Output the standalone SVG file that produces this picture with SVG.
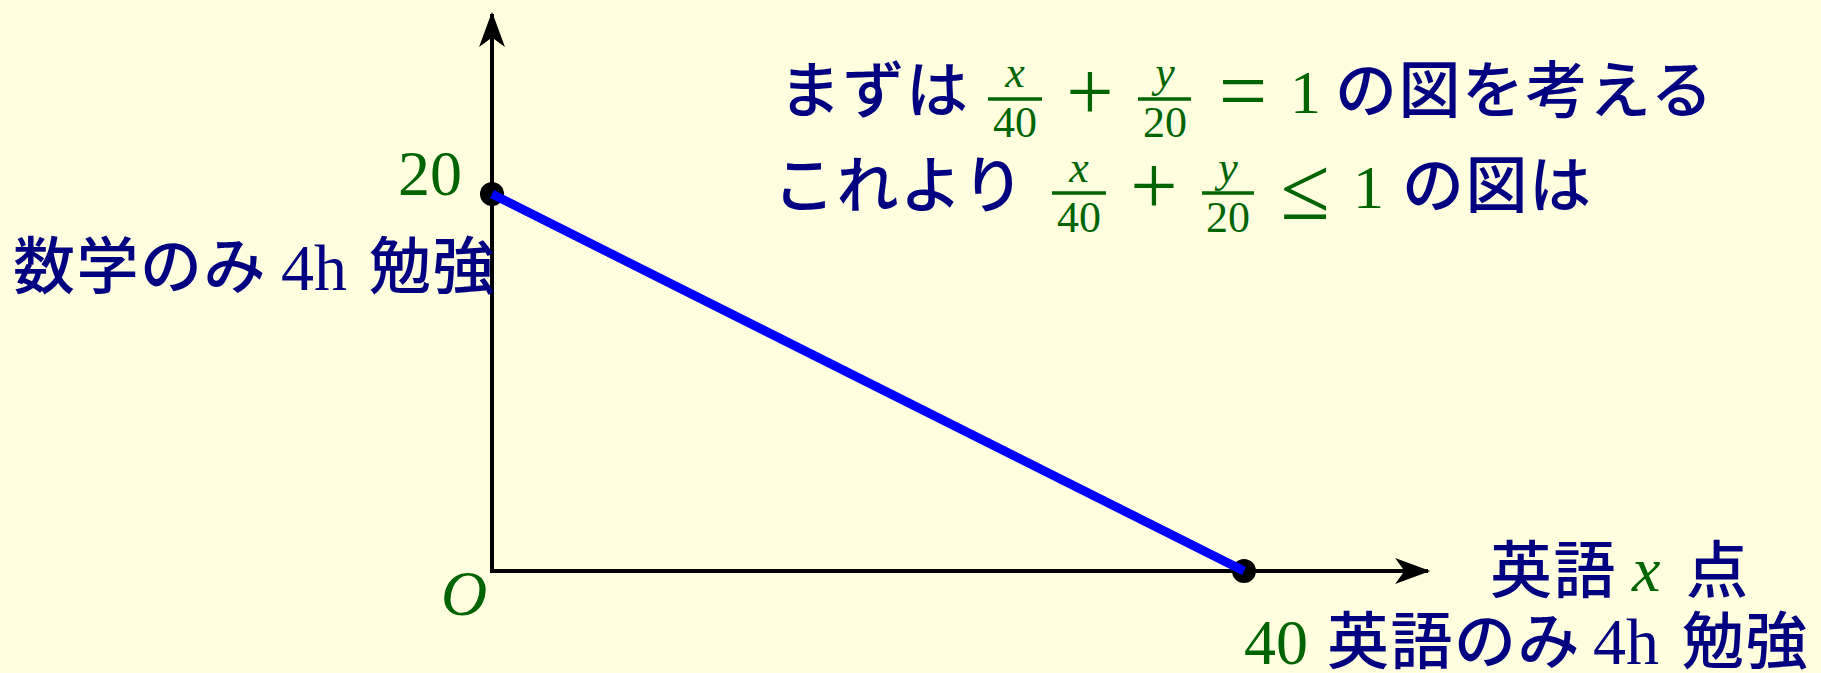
<svg xmlns="http://www.w3.org/2000/svg" width="1821" height="673" viewBox="0 0 1821 673">
<style>
.jp{font-family:"Noto Sans CJK JP","Noto Sans CJK SC",sans-serif;font-size:62px;letter-spacing:1.5px;fill:#000080;font-weight:500}
.rm{font-family:"Liberation Serif","DejaVu Serif",serif;fill:#006400}
.rmn{font-family:"Liberation Serif","DejaVu Serif",serif;fill:#000080}
.it{font-family:"Liberation Serif","DejaVu Serif",serif;font-style:italic;fill:#006400}
.op{font-family:"Liberation Serif","DejaVu Serif",serif;fill:#006400}
.bar{stroke:#006400;stroke-width:3.5}
.axis{stroke:#000;stroke-width:4;fill:none}
</style>
<defs>
<marker id="arr" markerUnits="userSpaceOnUse" markerWidth="40" markerHeight="30" viewBox="-30 -12 34 24" refX="0" refY="0" orient="auto">
<path d="M2,0 L-28,-11 L-20,0 L-28,11 Z" fill="#000"/>
</marker>
</defs>
<rect width="1821" height="673" fill="#FFFFE0"/>
<g id="axes">
<line class="axis" x1="492" y1="571" x2="492" y2="14" marker-end="url(#arr)"/>
<line class="axis" x1="490" y1="571" x2="1428" y2="571" marker-end="url(#arr)"/>
</g>
<g id="node-y20"><circle cx="492" cy="194" r="12" fill="#000"/></g>
<g id="node-x40"><circle cx="1244" cy="571" r="12" fill="#000"/></g>
<g id="connectors">
<line x1="492" y1="194" x2="1244" y2="571" stroke="#0000FF" stroke-width="9"/>
</g>
<g id="label-origin"><text class="it" x="441" y="615" font-size="64">O</text></g>
<g id="label-20"><text class="rm" x="398" y="195" font-size="64">20</text></g>
<g id="label-y">
<text class="jp" x="13" y="289">数学のみ</text>
<text class="rmn" x="281" y="290" font-size="66">4h</text>
<text class="jp" x="369" y="289">勉強</text>
</g>
<g id="label-x">
<text class="jp" x="1490" y="593">英語</text>
<text class="it" x="1632" y="591" font-size="64">x</text>
<text class="jp" x="1686" y="593">点</text>
</g>
<g id="label-40">
<text class="rm" x="1244" y="664" font-size="64">40</text>
<text class="jp" x="1327" y="664">英語のみ</text>
<text class="rmn" x="1593" y="664" font-size="66">4h</text>
<text class="jp" x="1682" y="664">勉強</text>
</g>
<g id="line1">
<text class="jp" x="779" y="113">まずは</text>
<line class="bar" x1="988" y1="99" x2="1042" y2="99"/>
<text class="it" x="1015" y="87" font-size="44" text-anchor="middle">x</text>
<text class="rm" x="1015" y="137" font-size="44" text-anchor="middle">40</text>
<text class="op" x="1090" y="120" font-size="84" text-anchor="middle">+</text>
<line class="bar" x1="1138" y1="99" x2="1191" y2="99"/>
<text class="it" x="1165" y="87" font-size="44" text-anchor="middle">y</text>
<text class="rm" x="1165" y="137" font-size="44" text-anchor="middle">20</text>
<text class="op" x="1243" y="120" font-size="86" text-anchor="middle">=</text>
<text class="rm" x="1290" y="113" font-size="62">1</text>
<text class="jp" x="1335" y="113">の図を考える</text>
</g>
<g id="line2">
<text class="jp" x="773" y="208">これより</text>
<line class="bar" x1="1052" y1="193" x2="1106" y2="193"/>
<text class="it" x="1079" y="182" font-size="44" text-anchor="middle">x</text>
<text class="rm" x="1079" y="232" font-size="44" text-anchor="middle">40</text>
<text class="op" x="1154" y="214" font-size="84" text-anchor="middle">+</text>
<line class="bar" x1="1202" y1="193" x2="1254" y2="193"/>
<text class="it" x="1228" y="182" font-size="44" text-anchor="middle">y</text>
<text class="rm" x="1228" y="232" font-size="44" text-anchor="middle">20</text>
<text class="op" x="1305" y="219" font-size="90" text-anchor="middle">≤</text>
<text class="rm" x="1353" y="208" font-size="62">1</text>
<text class="jp" x="1402" y="208">の図は</text>
</g>
</svg>
